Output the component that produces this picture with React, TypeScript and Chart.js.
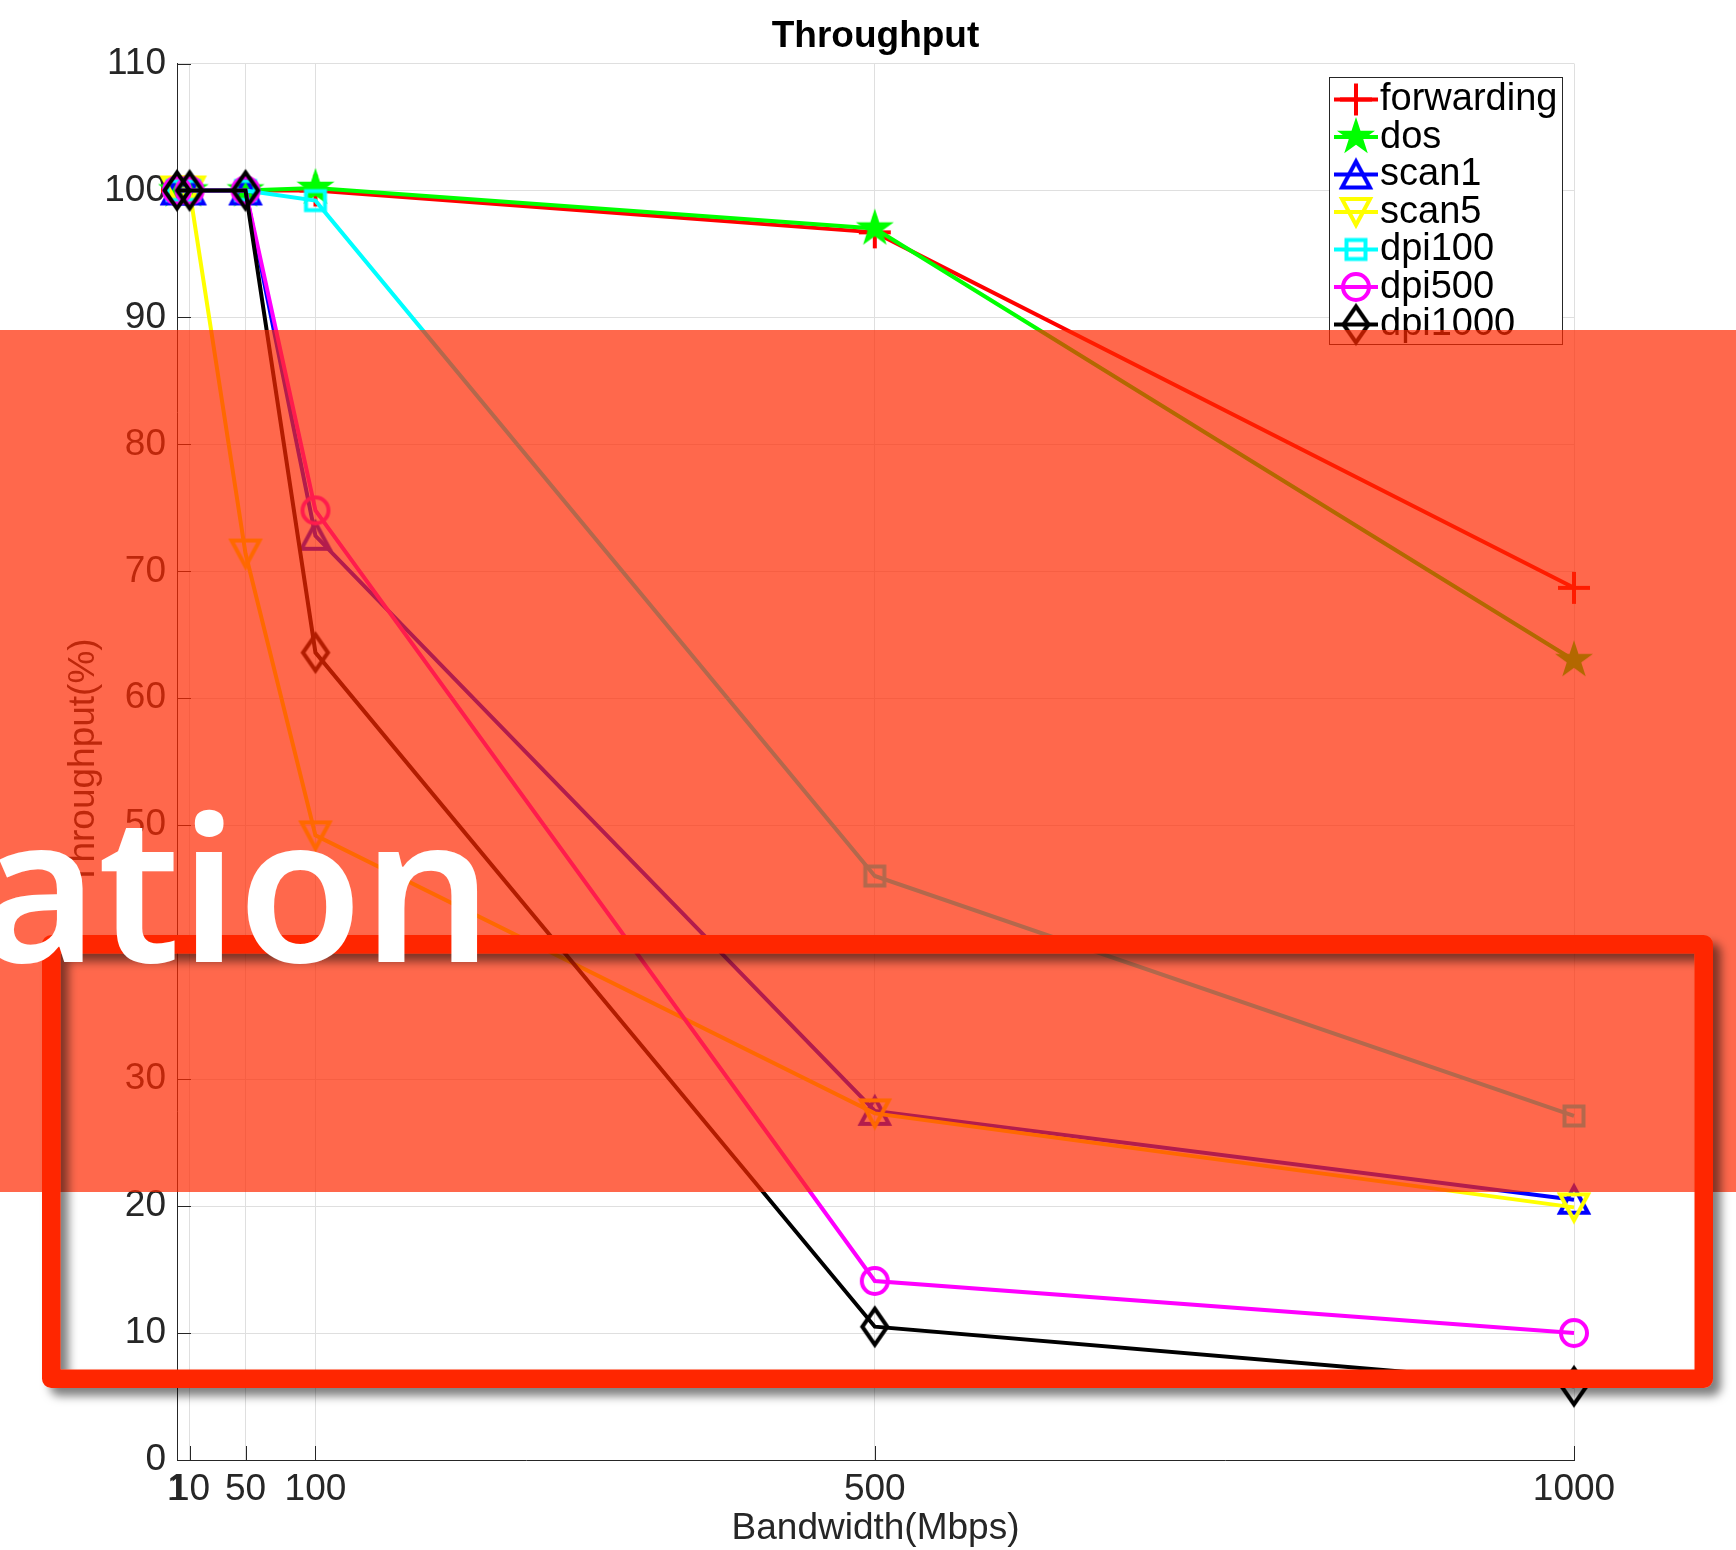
import React, { useEffect, useRef } from 'react';
import { Chart, registerables } from 'chart.js';

Chart.register(...registerables);

// ---- data ----
const bandwidth = [1, 10, 50, 100, 500, 1000];
const xTickValues = [1, 10, 50, 100, 500, 1000];
const forwarding = [100, 100, 100, 100, 96.7, 68.7];
const dos = [100, 100, 100, 100.2, 97.0, 63.0];
const scan1 = [100, 100, 100, 72.8, 27.5, 20.5];
const scan5 = [100, 100, 71.4, 49.2, 27.3, 19.9];
const dpi100 = [100, 100, 100, 99.2, 46.0, 27.1];
const dpi500 = [100, 100, 100, 74.8, 14.1, 10.0];
const dpi1000 = [100, 100, 100, 63.6, 10.5, 5.8];

const seriesNames = ['forwarding', 'dos', 'scan1', 'scan5', 'dpi100', 'dpi500', 'dpi1000'];
const seriesValues = [forwarding, dos, scan1, scan5, dpi100, dpi500, dpi1000];
const seriesColors = ['#ff0000', '#00ff00', '#0000ff', '#ffff00', '#00ffff', '#ff00ff', '#000000'];
const seriesMarkers = ['plus', 'pentagram', 'triUp', 'triDown', 'square', 'circle', 'diamond'];

const titleText = 'Throughput';
const xTitle = 'Bandwidth(Mbps)';
const yTitle = 'Throughput(%)';
const overlayWord = 'ation';

const FONT = '"Liberation Sans", Arial, Helvetica, sans-serif';
const AXIS_COLOR = '#262626';
const GRID_COLOR = '#dfdfdf';

function makeMarker(kind: string, color: string): HTMLCanvasElement {
  const c = document.createElement('canvas');
  c.width = 50;
  c.height = 50;
  const g = c.getContext('2d')!;
  g.translate(25, 25);
  g.strokeStyle = color;
  g.fillStyle = color;
  g.lineWidth = 4;
  g.lineJoin = 'miter';
  g.lineCap = 'butt';
  g.beginPath();
  switch (kind) {
    case 'plus':
      g.moveTo(-16, 0); g.lineTo(16, 0);
      g.moveTo(0, -16); g.lineTo(0, 16);
      g.stroke();
      break;
    case 'pentagram': {
      const R = 20, r = R * 0.382;
      for (let i = 0; i < 10; i++) {
        const a = -Math.PI / 2 + (i * Math.PI) / 5;
        const rr = i % 2 === 0 ? R : r;
        const px = Math.cos(a) * rr, py = Math.sin(a) * rr;
        if (i === 0) g.moveTo(px, py); else g.lineTo(px, py);
      }
      g.closePath();
      g.fill();
      break;
    }
    case 'triUp':
      g.moveTo(0, -13); g.lineTo(14, 13); g.lineTo(-14, 13); g.closePath();
      g.stroke();
      break;
    case 'triDown':
      g.moveTo(0, 13); g.lineTo(14, -13); g.lineTo(-14, -13); g.closePath();
      g.stroke();
      break;
    case 'square':
      g.rect(-9.5, -9.5, 19, 19);
      g.stroke();
      break;
    case 'circle':
      g.arc(0, 0, 13, 0, Math.PI * 2);
      g.stroke();
      break;
    case 'diamond':
      g.moveTo(0, -18); g.lineTo(12.5, 0); g.lineTo(0, 18); g.lineTo(-12.5, 0); g.closePath();
      g.stroke();
      break;
  }
  return c;
}

export default function App() {
  const canvasRef = useRef<HTMLCanvasElement | null>(null);

  useEffect(() => {
    const canvas = canvasRef.current;
    if (!canvas) return;
    const markers = seriesMarkers.map((m, i) => makeMarker(m, seriesColors[i]));

    const matlabPlugin = {
      id: 'matlabStyle',
      beforeDatasetsDraw(chart: any) {
        const { ctx, chartArea, scales } = chart;
        ctx.save();
        ctx.strokeStyle = AXIS_COLOR;
        ctx.lineWidth = 1;
        scales.y.ticks.forEach((t: any) => {
          const y = Math.round(scales.y.getPixelForValue(t.value)) + 0.5;
          ctx.beginPath();
          ctx.moveTo(chartArea.left, y);
          ctx.lineTo(chartArea.left + 14, y);
          ctx.stroke();
        });
        scales.x.ticks.forEach((t: any) => {
          const x = Math.round(scales.x.getPixelForValue(t.value)) + 0.5;
          ctx.beginPath();
          ctx.moveTo(x, chartArea.bottom);
          ctx.lineTo(x, chartArea.bottom - 14);
          ctx.stroke();
        });
        ctx.restore();
      },
      afterDraw(chart: any) {
        const { ctx, chartArea } = chart;
        // title, centred over the axes
        ctx.save();
        ctx.fillStyle = '#000000';
        ctx.font = `bold 37px ${FONT}`;
        ctx.textAlign = 'center';
        ctx.textBaseline = 'alphabetic';
        ctx.fillText(titleText, (chartArea.left + chartArea.right) / 2, chartArea.top - 16.5);
        ctx.restore();

        // legend
        const boxRight = chartArea.right - 11;
        const boxLeft = boxRight - 234;
        const boxTop = chartArea.top + 13.5;
        const boxH = 268;
        ctx.save();
        ctx.fillStyle = '#ffffff';
        ctx.fillRect(boxLeft, boxTop, 234, boxH);
        ctx.strokeStyle = AXIS_COLOR;
        ctx.lineWidth = 1;
        ctx.strokeRect(boxLeft + 0.5, boxTop + 0.5, 233, boxH - 1);
        seriesNames.forEach((name, i) => {
          const y = boxTop + 22.5 + i * 37.5;
          ctx.strokeStyle = seriesColors[i];
          ctx.lineWidth = 4;
          ctx.beginPath();
          ctx.moveTo(boxLeft + 5, y);
          ctx.lineTo(boxLeft + 49, y);
          ctx.stroke();
          ctx.drawImage(markers[i], boxLeft + 27 - 25, y - 25);
          ctx.fillStyle = '#000000';
          ctx.font = `38px ${FONT}`;
          ctx.textBaseline = 'middle';
          ctx.textAlign = 'left';
          ctx.fillText(name, boxLeft + 51, y + 0.5);
        });
        ctx.restore();
      },
    };

    const datasets = seriesNames.map((name, i) => ({
      label: name,
      data: bandwidth.map((x, j) => ({ x, y: seriesValues[i][j] })),
      borderColor: seriesColors[i],
      backgroundColor: seriesColors[i],
      borderWidth: 4,
      pointStyle: markers[i],
      pointRadius: 12,
      pointHoverRadius: 12,
      tension: 0,
      fill: false,
      clip: false as any,
      order: seriesNames.length - i,
    }));

    const chart = new Chart(canvas, {
      type: 'line',
      data: { datasets },
      options: {
        responsive: false,
        animation: false,
        devicePixelRatio: 1,
        events: [],
        layout: { padding: { left: 0, right: 162, top: 63.5, bottom: 0 } },
        plugins: {
          legend: { display: false },
          tooltip: { enabled: false },
          title: { display: false },
        },
        scales: {
          x: {
            type: 'linear',
            min: 1,
            max: 1000,
            afterBuildTicks: (s: any) => {
              s.ticks = xTickValues.map((v) => ({ value: v }));
            },
            afterFit: (s: any) => {
              s.height = 90;
            },
            grid: { color: GRID_COLOR, lineWidth: 1, drawTicks: false },
            border: { color: AXIS_COLOR, width: 1 },
            ticks: {
              autoSkip: false,
              maxRotation: 0,
              minRotation: 0,
              padding: 8,
              color: AXIS_COLOR,
              font: { family: FONT, size: 37, lineHeight: 1.2 },
              callback: (v: any) => String(v),
            },
            title: {
              display: true,
              text: xTitle,
              color: AXIS_COLOR,
              font: { family: FONT, size: 37, lineHeight: 1 },
              padding: { top: 0, bottom: 3 },
            },
          },
          y: {
            type: 'linear',
            min: 0,
            max: 110,
            afterFit: (s: any) => {
              s.width = 177;
            },
            grid: { color: GRID_COLOR, lineWidth: 1, drawTicks: false },
            border: { color: AXIS_COLOR, width: 1 },
            ticks: {
              stepSize: 10,
              padding: 11,
              color: AXIS_COLOR,
              font: { family: FONT, size: 37, lineHeight: 1.2 },
            },
            title: {
              display: true,
              text: yTitle,
              color: AXIS_COLOR,
              font: { family: FONT, size: 37, lineHeight: 1 },
              padding: { top: 65, bottom: 0 },
            },
          },
        },
      },
      plugins: [matlabPlugin],
    } as any);

    return () => {
      chart.destroy();
    };
  }, []);

  return (
    <div style={{ position: 'absolute', left: 0, top: 0, width: 1736, height: 1550, background: '#ffffff', overflow: 'hidden' }}>
      <canvas ref={canvasRef} width={1736} height={1550} style={{ position: 'absolute', left: 0, top: 0, width: 1736, height: 1550 }} />
      <svg width={1736} height={1550} style={{ position: 'absolute', left: 0, top: 0, pointerEvents: 'none' }}>
        <defs>
          <filter id="dropShadow" x="-5%" y="-10%" width="115%" height="130%">
            <feDropShadow dx="8" dy="8" stdDeviation="5" floodColor="#000000" floodOpacity="0.5" />
          </filter>
        </defs>
        <rect x={0} y={330} width={1736} height={862} fill="rgba(255,40,0,0.7)" />
        <rect x={51.25} y={944.25} width={1652.5} height={434.5} fill="none" stroke="#ff2800" strokeWidth={18.5} strokeLinejoin="round" filter="url(#dropShadow)" />
        <text x={-21} y={962} fill="#ffffff" fontFamily='"Noto Sans", "Open Sans", sans-serif' fontWeight={600} fontSize={203}>{overlayWord}</text>
      </svg>
    </div>
  );
}
